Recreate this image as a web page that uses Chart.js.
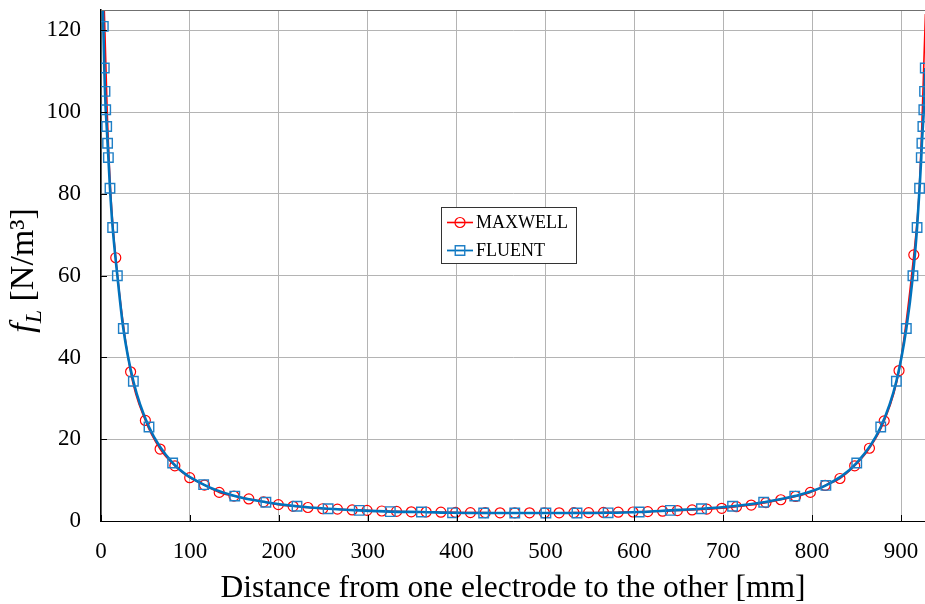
<!DOCTYPE html>
<html>
<head>
<meta charset="utf-8">
<script src="https://cdn.jsdelivr.net/npm/chart.js@4.4.1/dist/chart.umd.min.js"></script>
<style>
  html, body { margin: 0; padding: 0; background: #fff; }
  #wrap { width: 925px; height: 604px; position: relative; }
</style>
</head>
<body>
<div id="wrap"><canvas id="forceChart"></canvas></div>
<script>
// x positions in mm, force density in N/m^3
const maxwellX = [16.6, 33.3, 49.9, 66.5, 83.1, 99.8, 116.4, 133.0, 149.6, 166.3, 182.9, 199.5, 216.1, 232.8,
  249.4, 266.0, 282.6, 299.3, 315.9, 332.5, 349.1, 365.8, 382.4, 399.0, 415.6, 432.3, 448.9, 465.5, 482.1,
  498.8, 515.4, 532.0, 548.6, 565.3, 581.9, 598.5, 615.1, 631.8, 648.4, 665.0, 681.6, 698.3, 714.9, 731.5,
  748.1, 764.8, 781.4, 798.0, 814.6, 831.3, 847.9, 864.5, 881.1, 897.8, 914.4];
const maxwellY = [64.4, 36.5, 24.6, 17.6, 13.5, 10.6, 8.8, 7.0, 6.1, 5.4, 4.7, 4.0, 3.6, 3.3,
  3.0, 2.9, 2.7, 2.6, 2.45, 2.35, 2.25, 2.2, 2.15, 2.1, 2.05, 2.05, 2.0, 2.0, 2.0,
  2.0, 2.0, 2.05, 2.05, 2.1, 2.15, 2.2, 2.3, 2.4, 2.55, 2.7, 2.9, 3.1, 3.5, 3.9,
  4.5, 5.2, 6.0, 7.0, 8.7, 10.4, 13.5, 17.8, 24.5, 36.8, 65.1];
// curve near the electrodes (no markers there)
const maxwellWallX = [2.5, 3.7, 7.0, 11.0, 920.0, 923.5, 926.0, 927.5];
const maxwellWallY = [140, 125, 100, 80, 79, 97, 114, 124];

const fluentX = [2.6, 3.7, 4.5, 5.3, 6.4, 7.4, 8.3, 10.1, 13.1, 18.4, 25.1, 36.4, 54.0, 80.6,
  115.5, 150.5, 185.5, 220.5, 255.5, 290.5, 325.5, 360.5, 395.5, 430.5, 465.5, 500.5, 535.5, 570.5,
  605.5, 640.5, 675.5, 710.5, 745.5, 780.5, 815.5,
  850.2, 877.2, 894.8, 906.0, 913.4, 918.1, 920.9, 922.8, 923.5, 924.6, 925.7, 926.5, 927.3, 928.4];
const fluentY = [121.0, 110.8, 105.1, 100.6, 96.5, 92.4, 88.9, 81.4, 71.8, 60.0, 47.1, 34.2, 23.0, 14.2,
  8.9, 6.1, 4.6, 3.6, 3.0, 2.6, 2.3, 2.2, 2.0, 1.95, 1.95, 1.95, 1.95, 2.0,
  2.2, 2.6, 3.0, 3.6, 4.6, 6.1, 8.7,
  14.2, 23.0, 34.2, 47.1, 60.0, 71.8, 81.4, 88.9, 92.4, 96.5, 100.6, 105.1, 110.8, 121.0];
const fluentWallX = [0.8, 930.2];
const fluentWallY = [140, 140];

const xTickStep = 100;
const yTickStep = 20;

const serif = "'Liberation Serif', 'Times New Roman', serif";

function buildPoints(xs, ys, wallXs, wallYs) {
  const pts = xs.map((x, i) => ({ x, y: ys[i], mark: true }));
  wallXs.forEach((x, i) => pts.push({ x, y: wallYs[i], mark: false }));
  return pts.sort((a, b) => a.x - b.x);
}

// frame top line, inward tick marks, rotated y title and boxed legend
const decorPlugin = {
  id: 'decor',
  afterDraw(chart, args, opts) {
    const { ctx, chartArea: a, scales } = chart;
    ctx.save();

    ctx.strokeStyle = '#707070';
    ctx.lineWidth = 1;
    ctx.beginPath();
    ctx.moveTo(a.left, a.top + 0.5);
    ctx.lineTo(a.right, a.top + 0.5);
    ctx.stroke();

    ctx.strokeStyle = '#000';
    ctx.beginPath();
    scales.x.ticks.forEach((t) => {
      const px = Math.round(scales.x.getPixelForValue(t.value)) + 0.5;
      ctx.moveTo(px, a.bottom);
      ctx.lineTo(px, a.bottom - 6);
    });
    scales.y.ticks.forEach((t) => {
      const py = Math.round(scales.y.getPixelForValue(t.value)) + 0.5;
      ctx.moveTo(a.left, py);
      ctx.lineTo(a.left + 6, py);
    });
    ctx.stroke();

    // y title: f_L [N/m³]
    const parts = [
      { t: 'f', font: 'italic 34px ' + serif, dy: 0 },
      { t: 'L', font: 'italic 24px ' + serif, dy: 8 },
      { t: ' [N/m³]', font: '34px ' + serif, dy: 0 },
    ];
    let total = 0;
    parts.forEach((p) => { ctx.font = p.font; p.w = ctx.measureText(p.t).width; total += p.w; });
    ctx.translate(opts.yTitleX, (a.top + a.bottom) / 2 + 5);
    ctx.rotate(-Math.PI / 2);
    ctx.fillStyle = '#000';
    ctx.textBaseline = 'alphabetic';
    let cx = -total / 2;
    parts.forEach((p) => { ctx.font = p.font; ctx.fillText(p.t, cx, p.dy); cx += p.w; });
    ctx.setTransform(1, 0, 0, 1, 0, 0);

    // legend
    const L = opts.legend;
    ctx.fillStyle = '#fff';
    ctx.fillRect(L.x, L.y, L.w, L.h);
    ctx.strokeStyle = '#333';
    ctx.lineWidth = 1;
    ctx.strokeRect(L.x + 0.5, L.y + 0.5, L.w, L.h);
    ctx.font = '18px ' + serif;
    ctx.textBaseline = 'middle';
    chart.data.datasets.forEach((ds, i) => {
      const cy = L.y + 15.5 + i * 28;
      ctx.strokeStyle = ds.borderColor;
      ctx.lineWidth = ds.legendLineWidth;
      ctx.beginPath();
      ctx.moveTo(L.x + 6, cy);
      ctx.lineTo(L.x + 32, cy);
      ctx.stroke();
      ctx.fillStyle = 'rgba(0,0,0,0)';
      ctx.strokeStyle = ds.pointBorderColor;
      ctx.lineWidth = ds.pointBorderWidth;
      Chart.helpers.drawPoint(ctx, {
        pointStyle: ds.pointStyle, radius: ds.legendRadius, borderWidth: ds.pointBorderWidth,
      }, L.x + 19, cy);
      ctx.fillStyle = '#000';
      ctx.fillText(ds.label, L.x + 35, cy + 1);
    });
    ctx.restore();
  },
};

new Chart(document.getElementById('forceChart'), {
  type: 'line',
  data: {
    datasets: [
      {
        label: 'MAXWELL',
        data: buildPoints(maxwellX, maxwellY, maxwellWallX, maxwellWallY),
        borderColor: '#ff0000',
        backgroundColor: 'rgba(0,0,0,0)',
        borderWidth: 1.6,
        legendLineWidth: 1.6,
        cubicInterpolationMode: 'monotone',
        pointStyle: 'circle',
        pointRadius: (c) => (c.raw && c.raw.mark ? 5 : 0),
        pointBorderColor: '#ff0000',
        pointBackgroundColor: 'rgba(0,0,0,0)',
        pointBorderWidth: 1.2,
        legendRadius: 5,
        order: 1,
      },
      {
        label: 'FLUENT',
        data: buildPoints(fluentX, fluentY, fluentWallX, fluentWallY),
        borderColor: '#0072bd',
        backgroundColor: 'rgba(0,0,0,0)',
        borderWidth: 2.6,
        legendLineWidth: 1.8,
        cubicInterpolationMode: 'monotone',
        pointStyle: 'rect',
        pointRadius: (c) => (c.raw && c.raw.mark ? 6.7 : 0),
        pointBorderColor: '#1f7fc6',
        pointBackgroundColor: 'rgba(0,0,0,0)',
        pointBorderWidth: 1.4,
        legendRadius: 6.7,
        order: 0,
      },
    ],
  },
  options: {
    responsive: true,
    maintainAspectRatio: false,
    animation: false,
    layout: { padding: { top: 10, right: 0, left: 0, bottom: 0 } },
    plugins: {
      legend: { display: false },
      tooltip: { enabled: false },
      decor: { yTitleX: 33, legend: { x: 441, y: 207, w: 135, h: 56 } },
    },
    scales: {
      x: {
        type: 'linear',
        min: 0,
        max: 927,
        afterBuildTicks: (s) => { s.ticks = s.ticks.filter((t) => t.value % xTickStep === 0); },
        afterFit: (s) => { s.height = 83; s.paddingLeft = 0; s.paddingRight = 0; },
        ticks: {
          stepSize: xTickStep, includeBounds: false, color: '#000',
          font: { family: serif, size: 23 }, padding: 17, maxRotation: 0,
        },
        grid: { color: '#b4b4b4', lineWidth: 1, drawTicks: false },
        border: { color: '#000', width: 1 },
        title: {
          display: true,
          text: 'Distance from one electrode to the other [mm]',
          color: '#000',
          font: { family: serif, size: 31.5, lineHeight: 1.0 },
          padding: { top: 0, bottom: 0 },
        },
      },
      y: {
        min: 0,
        max: 125,
        afterBuildTicks: (s) => { s.ticks = s.ticks.filter((t) => t.value % yTickStep === 0); },
        afterFit: (s) => { s.width = 101; s.paddingTop = 0; s.paddingBottom = 0; },
        ticks: {
          stepSize: yTickStep, includeBounds: false, color: '#000',
          font: { family: serif, size: 23 }, padding: 20,
        },
        grid: { color: '#b4b4b4', lineWidth: 1, drawTicks: false },
        border: { color: '#000', width: 1.5 },
      },
    },
  },
  plugins: [decorPlugin],
});
</script>
</body>
</html>
